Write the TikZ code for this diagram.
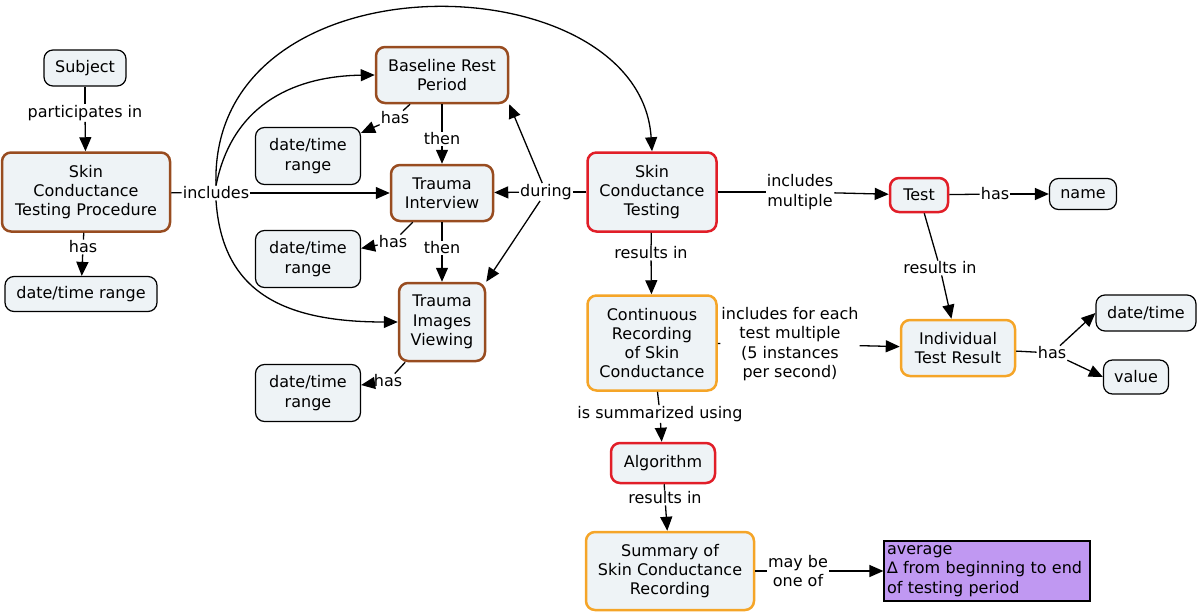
\documentclass[tikz,border=0pt]{standalone}
\usepackage{fontspec}
\setmainfont{DejaVu Sans}
\usepackage{tikz}
\usetikzlibrary{arrows.meta}
\definecolor{boxfill}{RGB}{238,243,246}
\definecolor{brownline}{RGB}{152,76,32}
\definecolor{redline}{RGB}{225,30,40}
\definecolor{orangeline}{RGB}{245,165,40}
\definecolor{lavender}{RGB}{192,152,242}
\tikzstyle{concept}=[draw, fill=boxfill, rounded corners=9pt, line width=1.2pt, inner sep=0pt, align=center, font=\fontsize{16}{19.3}\selectfont]
\tikzstyle{brownbox}=[concept, draw=brownline, line width=2.5pt]
\tikzstyle{redbox}=[concept, draw=redline, line width=2.5pt]
\tikzstyle{orangebox}=[concept, draw=orangeline, line width=2.5pt]
\tikzstyle{link}=[fill=white, inner sep=1pt, align=center, font=\fontsize{16}{19.3}\selectfont]
\tikzstyle{edge}=[line width=1.3pt]
\tikzstyle{arr}=[edge, -{Triangle[length=14pt, width=12pt]}]

\begin{document}
\begin{tikzpicture}[x=1pt, y=-1pt]
        \useasboundingbox (0,0) rectangle (1200,613);
        % conceptos
        \node[concept, minimum width=82pt, minimum height=36pt] (subj) at (85, 68) {Subject};
        \node[brownbox, minimum width=168pt, minimum height=79pt] (proc) at (86, 192) {Skin\\Conductance\\Testing Procedure};
        \node[concept, minimum width=152pt, minimum height=35pt] (dtr0) at (81, 294) {date/time range};
        \node[brownbox, minimum width=132pt, minimum height=56pt] (base) at (442, 75) {Baseline Rest\\Period};
        \node[concept, minimum width=105pt, minimum height=57pt] (dtr1) at (308, 156) {date/time\\range};
        \node[brownbox, minimum width=102pt, minimum height=56pt] (ti) at (442, 193) {Trauma\\Interview};
        \node[concept, minimum width=105pt, minimum height=57pt] (dtr2) at (308, 259) {date/time\\range};
        \node[brownbox, minimum width=86pt, minimum height=78pt] (tiv) at (442, 322) {Trauma\\Images\\Viewing};
        \node[concept, minimum width=105pt, minimum height=57pt] (dtr3) at (308, 393) {date/time\\range};
        \node[redbox, minimum width=129pt, minimum height=79pt] (sct) at (652, 192) {Skin\\Conductance\\Testing};
        \node[redbox, minimum width=58pt, minimum height=34pt] (test) at (919, 195) {Test};
        \node[concept, minimum width=67pt, minimum height=31pt] (name) at (1083, 194) {name};
        \node[orangebox, minimum width=114pt, minimum height=56pt] (ires) at (958, 348) {Individual\\Test Result};
        \node[concept, minimum width=100pt, minimum height=36pt] (dt) at (1146, 313) {date/time};
        \node[concept, minimum width=65pt, minimum height=34pt] (val) at (1136, 377) {value};
        \node[orangebox, minimum width=129pt, minimum height=95pt] (rec) at (652, 343) {Continuous\\Recording\\of Skin\\Conductance};
        \node[redbox, minimum width=104pt, minimum height=40pt] (alg) at (663, 463) {Algorithm};
        \node[orangebox, minimum width=168pt, minimum height=78pt] (summ) at (670, 571) {Summary of\\Skin Conductance\\Recording};
        \node[draw, fill=lavender, line width=1.2pt, minimum width=206pt, minimum height=60pt, inner sep=3pt, align=left, text width=200pt, font=\fontsize{16}{19.3}\selectfont] (opts) at (987, 571) {average\\∆ from beginning to end\\of testing period};

        % frases de enlace
        \node[link] (partin) at (85, 113) {participates in};
        \node[link] (has0) at (83, 247) {has};
        \node[link] (inc) at (216, 193) {includes};
        \node[link] (has1) at (395, 118) {has};
        \node[link] (then1) at (442, 139) {then};
        \node[link] (has2) at (393, 242) {has};
        \node[link] (then2) at (442, 248) {then};
        \node[link] (has3) at (388, 381) {has};
        \node[link] (dur) at (546, 192) {during};
        \node[link] (incm) at (800, 192) {includes\\multiple};
        \node[link] (hasn) at (995, 194) {has};
        \node[link] (resi) at (940, 268) {results in};
        \node[link] (hasr) at (1052, 353) {has};
        \node[link] (res1) at (651, 253) {results in};
        \node[link] (incf) at (790, 344) {includes for each\\test multiple\\(5 instances\\per second)};
        \node[link] (summu) at (660, 414) {is summarized using};
        \node[link] (res2) at (665, 498) {results in};
        \node[link] (maybe) at (798, 571) {may be\\one of};

        % enlaces
        \draw[edge] (subj) -- (partin);
        \draw[arr] (partin) -- (proc);
        \draw[edge] (proc) -- (has0);
        \draw[arr] (has0) -- (dtr0);
        \draw[edge] (proc) -- (inc);
        \draw[arr] (inc) -- (ti);
        \draw[arr] (inc.north) .. controls (233, 100) and (300, 76) .. (base.west);
        \draw[arr] (inc.south) .. controls (222, 290) and (280, 322) .. (tiv.west);
        \draw[arr] (inc.north) .. controls (208, -50) and (640, -40) .. (sct.north);
        \draw[edge] (base) -- (has1);
        \draw[arr] (has1) -- (dtr1);
        \draw[edge] (base) -- (then1);
        \draw[arr] (then1) -- (ti);
        \draw[edge] (ti) -- (has2);
        \draw[arr] (has2) -- (dtr2);
        \draw[edge] (ti) -- (then2);
        \draw[arr] (then2) -- (tiv);
        \draw[edge] (tiv) -- (has3);
        \draw[arr] (has3) -- (dtr3);
        \draw[edge] (sct) -- (dur);
        \draw[arr] (dur) -- (base.south east);
        \draw[arr] (dur) -- (ti);
        \draw[arr] (dur) -- (tiv.north east);
        \draw[edge] (sct) -- (incm);
        \draw[arr] (incm) -- (test);
        \draw[edge] (test) -- (hasn);
        \draw[arr] (hasn) -- (name);
        \draw[edge] (test) -- (resi);
        \draw[arr] (resi) -- (ires);
        \draw[edge] (ires) -- (hasr);
        \draw[arr] (hasr) -- (dt.west);
        \draw[arr] (hasr) -- (val.west);
        \draw[edge] (sct) -- (res1);
        \draw[arr] (res1) -- (rec);
        \draw[edge] (rec) -- (incf);
        \draw[arr] (incf) -- (ires);
        \draw[edge] (rec) -- (summu);
        \draw[arr] (summu) -- (alg);
        \draw[edge] (alg) -- (res2);
        \draw[arr] (res2) -- (summ);
        \draw[edge] (summ) -- (maybe);
        \draw[arr] (maybe) -- (opts);
    \end{tikzpicture}
\end{document}
